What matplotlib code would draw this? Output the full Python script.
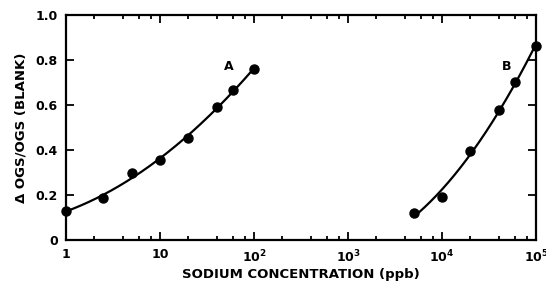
import matplotlib
matplotlib.use('agg')
import numpy as np
import matplotlib.pyplot as plt
from matplotlib.ticker import LogLocator, FixedLocator, NullFormatter

# curve A (low range) and curve B (high range)
conc_a = [1, 2.5, 5, 10, 20, 40, 60, 100]
resp_a = [0.13, 0.185, 0.30, 0.355, 0.455, 0.59, 0.665, 0.76]
conc_b = [5000, 10000, 20000, 40000, 60000, 100000]
resp_b = [0.118, 0.19, 0.395, 0.578, 0.70, 0.862]

x_ticks = [1, 10, 100, 1000, 10000, 100000]
x_labels = ["1", "10", r"10$^2$", r"10$^3$", r"10$^4$", r"10$^5$"]
y_ticks = [0, 0.2, 0.4, 0.6, 0.8, 1.0]
y_labels = ["0", "0.2", "0.4", "0.6", "0.8", "1.0"]

plt.rcParams['font.family'] = ['DejaVu Sans']
plt.rcParams['font.weight'] = 'bold'

fig = plt.figure(figsize=(5.46, 2.86), dpi=100)
ax = fig.add_axes([0.1209, 0.1608, 0.8608, 0.7868])


def fit_curve(xs, ys, deg=2):
    lx = np.log10(xs)
    coef = np.polyfit(lx, ys, deg)
    grid = np.linspace(lx[0], lx[-1], 200)
    return 10 ** grid, np.polyval(coef, grid)


for xs, ys in [(conc_a, resp_a), (conc_b, resp_b)]:
    gx, gy = fit_curve(xs, ys)
    ax.plot(gx, gy, color='black', lw=1.6, zorder=2)
    ax.plot(xs, ys, 'o', color='black', ms=6.5, zorder=3, clip_on=False)

ax.text(54, 0.77, "A", fontsize=9, fontweight='bold', ha='center', va='center')
ax.text(49000, 0.77, "B", fontsize=9, fontweight='bold', ha='center', va='center')

ax.set_xscale('log')
ax.set_xlim(1, 1e5)
ax.set_ylim(0, 1.0)
ax.set_xticks(x_ticks)
ax.set_xticklabels(x_labels)
ax.xaxis.set_minor_locator(LogLocator(base=10, subs=[2, 4, 6, 8]))
ax.xaxis.set_minor_formatter(NullFormatter())
ax.yaxis.set_major_locator(FixedLocator(y_ticks))
ax.set_yticklabels(y_labels)

ax.tick_params(which='both', direction='in', top=True, right=True, width=1.3,
               labelsize=9, pad=6)
ax.tick_params(which='major', length=6)
ax.tick_params(which='minor', length=3)
for s in ax.spines.values():
    s.set_linewidth(1.6)

ax.set_xlabel("SODIUM CONCENTRATION (ppb)", fontsize=9.5, fontweight='bold', labelpad=2)
ax.set_ylabel("Δ OGS/OGS (BLANK)", fontsize=9.5, fontweight='bold', labelpad=6)

fig.savefig("out.png", dpi=100)
